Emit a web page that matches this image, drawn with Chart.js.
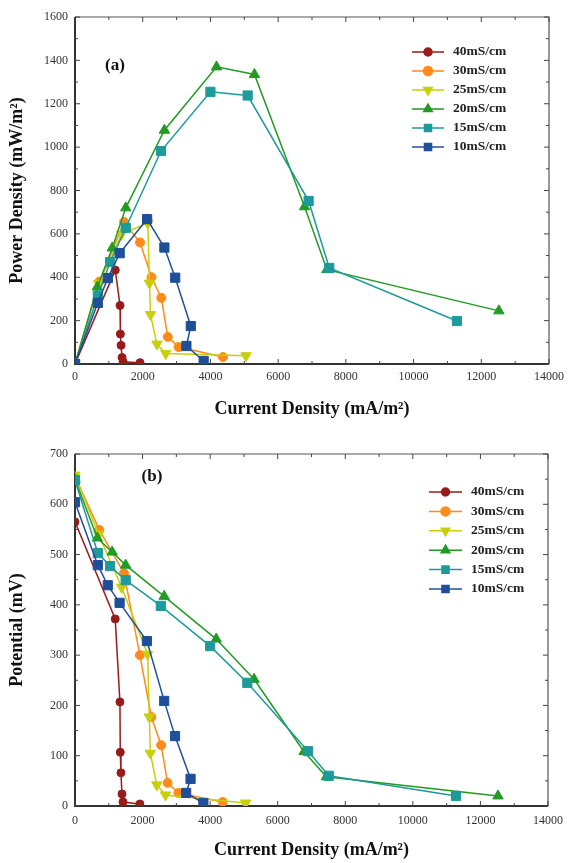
<!DOCTYPE html>
<html>
<head>
<meta charset="utf-8">
<script src="https://cdn.jsdelivr.net/npm/chart.js@4.4.0/dist/chart.umd.min.js"></script>
<style>
    html, body { margin: 0; padding: 0; background: #fff; }
    #boxA { position: absolute; left: 0; top: 0; width: 571px; height: 420px; }
    #boxB { position: absolute; left: 0; top: 420px; width: 571px; height: 443px; }
</style>
</head>
<body>
<div id="boxA"><canvas id="chartA" width="571" height="420"></canvas></div>
<div id="boxB"><canvas id="chartB" width="571" height="443"></canvas></div>
<script>
// series names
var seriesNames = ["40mS/cm", "30mS/cm", "25mS/cm", "20mS/cm", "15mS/cm", "10mS/cm"];

// current density (mA/m2), shared by both panels
var current40 = [0, 1190, 1330, 1340, 1360, 1390, 1420, 1920];
var current30 = [0, 720, 1450, 1920, 2260, 2550, 2740, 3060, 4370];
var current25 = [0, 700, 1380, 2150, 2200, 2230, 2420, 2680, 5050];
var current20 = [0, 660, 1100, 1500, 2640, 4180, 5300, 6780, 7440, 12520];
var current15 = [0, 675, 1040, 1500, 2540, 4000, 5100, 6900, 7510, 11280];
var current10 = [0, 675, 970, 1320, 2130, 2640, 2960, 3420, 3290, 3800];

// (a) power density (mW/m2)
var power40 = [0, 433, 270, 138, 86, 30, 10, 6];
var power30 = [0, 380, 655, 560, 400, 305, 125, 78, 32];
var power25 = [0, 370, 600, 650, 373, 228, 92, 48, 38];
var power20 = [0, 355, 535, 720, 1078, 1370, 1335, 725, 435, 245];
var power15 = [0, 315, 470, 628, 982, 1255, 1238, 752, 443, 198];
var power10 = [0, 282, 396, 511, 668, 537, 398, 175, 83, 14];

// (b) potential (mV)
var potential40 = [565, 372, 207, 107, 66, 24, 8, 4];
var potential30 = [655, 549, 463, 300, 177, 121, 46, 26, 8];
var potential25 = [658, 540, 435, 302, 177, 105, 42, 22, 6];
var potential20 = [650, 533, 505, 479, 417, 332, 252, 108, 58, 20];
var potential15 = [648, 503, 477, 449, 398, 318, 245, 109, 60, 20];
var potential10 = [604, 479, 439, 404, 328, 209, 139, 54, 26, 6];

var xTicks = [0, 2000, 4000, 6000, 8000, 10000, 12000, 14000];

var seriesColors = ["#9b1a1a", "#ff8a1c", "#c9cf0a", "#239a23", "#1f9a9a", "#1f4f98"];
var seriesStyles = [
    {style: "circle", radius: 4, rot: 0},
    {style: "circle", radius: 4.5, rot: 0},
    {style: "triangle", radius: 6, rot: 180},
    {style: "triangle", radius: 6, rot: 0},
    {style: "rect", radius: 6.5, rot: 0},
    {style: "rect", radius: 6.5, rot: 0}
];
var currents = [current40, current30, current25, current20, current15, current10];

Chart.defaults.font.family = "'Liberation Serif', 'Times New Roman', serif";
Chart.defaults.color = "#333";

function toPoints(xs, ys) {
    var pts = [];
    for (var i = 0; i < xs.length; i++) {
        pts.push({x: xs[i], y: ys[i]});
    }
    return pts;
}

function plainNumber(v) {
    return String(v);
}

function makeDatasets(values) {
    var sets = [];
    for (var i = 0; i < seriesNames.length; i++) {
        sets.push({
            label: seriesNames[i],
            data: toPoints(currents[i], values[i]),
            showLine: true,
            borderColor: seriesColors[i],
            backgroundColor: seriesColors[i],
            borderWidth: 1.5,
            pointStyle: seriesStyles[i].style,
            pointRadius: seriesStyles[i].radius,
            pointRotation: seriesStyles[i].rot,
            pointBorderWidth: 1,
            order: seriesNames.length - i
        });
    }
    return sets;
}

// box around the plot with inward major/minor ticks, the panel tag and the legend inside
var framePlugin = {
    id: "frame",
    beforeDatasetsDraw: function (chart, args, opts) {
        var ctx = chart.ctx, a = chart.chartArea;
        var sx = chart.scales.x, sy = chart.scales.y;
        ctx.save();
        ctx.strokeStyle = "#555";
        ctx.lineWidth = 1.2;
        ctx.beginPath();
        ctx.moveTo(a.left, a.top); ctx.lineTo(a.right, a.top); ctx.lineTo(a.right, a.bottom);
        ctx.stroke();
        ctx.strokeStyle = "#333";
        ctx.lineWidth = 2;
        ctx.beginPath();
        ctx.moveTo(a.left, a.top); ctx.lineTo(a.left, a.bottom); ctx.lineTo(a.right, a.bottom);
        ctx.stroke();

        ctx.lineWidth = 1;
        ctx.strokeStyle = "#444";
        ctx.beginPath();
        for (var v = sx.min; v <= sx.max; v += opts.xMinor) {
            var px = sx.getPixelForValue(v);
            var len = (v % (opts.xMinor * 2) === 0) ? 5 : 3;
            ctx.moveTo(px, a.bottom); ctx.lineTo(px, a.bottom - len);
            ctx.moveTo(px, a.top); ctx.lineTo(px, a.top + len);
        }
        for (var w = sy.min; w <= sy.max; w += opts.yMinor) {
            var py = sy.getPixelForValue(w);
            var len2 = (w % (opts.yMinor * 2) === 0) ? 5 : 3;
            ctx.moveTo(a.left, py); ctx.lineTo(a.left + len2, py);
            ctx.moveTo(a.right, py); ctx.lineTo(a.right - len2, py);
        }
        ctx.stroke();

        ctx.fillStyle = "#111";
        ctx.font = "bold 17px 'Liberation Serif', serif";
        ctx.textAlign = "center";
        ctx.textBaseline = "middle";
        ctx.fillText(opts.tag, opts.tagX, opts.tagY);
        ctx.restore();
    },
    afterDraw: function (chart, args, opts) {
        var ctx = chart.ctx;
        ctx.save();
        ctx.font = "bold 13.5px 'Liberation Serif', serif";
        ctx.textAlign = "left";
        ctx.textBaseline = "middle";
        chart.data.datasets.forEach(function (ds, i) {
            var y = opts.legendY + i * opts.legendStep;
            ctx.strokeStyle = ds.borderColor;
            ctx.fillStyle = ds.backgroundColor;
            ctx.lineWidth = 1.5;
            ctx.beginPath();
            ctx.moveTo(opts.legendX1, y); ctx.lineTo(opts.legendX2, y);
            ctx.stroke();
            Chart.helpers.drawPoint(ctx, {
                pointStyle: ds.pointStyle,
                radius: Math.min(ds.pointRadius, 5),
                rotation: ds.pointRotation,
                borderWidth: 1
            }, (opts.legendX1 + opts.legendX2) / 2, y);
            ctx.fillStyle = "#222";
            ctx.fillText(ds.label, opts.legendX2 + 9, y);
        });
        ctx.restore();
    }
};

function makeChart(id, values, cfg) {
    return new Chart(document.getElementById(id), {
        type: "scatter",
        data: {datasets: makeDatasets(values)},
        plugins: [framePlugin],
        options: {
            responsive: false,
            animation: false,
            layout: {padding: cfg.padding},
            plugins: {
                legend: {display: false},
                tooltip: {enabled: false},
                frame: cfg.frame
            },
            scales: {
                x: {
                    type: "linear",
                    min: 0,
                    max: 14000,
                    afterBuildTicks: function (s) {
                        s.ticks = xTicks.map(function (v) { return {value: v}; });
                    },
                    afterFit: function (s) { s.height = cfg.xHeight; },
                    ticks: {padding: cfg.xTickPad, color: "#333", font: {size: 12}, callback: plainNumber},
                    grid: {display: false, drawTicks: false},
                    border: {display: false},
                    title: {
                        display: true,
                        text: "Current Density (mA/m\u00b2)",
                        color: "#111",
                        font: {size: 18, weight: "bold"},
                        padding: {top: 0, bottom: 0}
                    }
                },
                y: {
                    type: "linear",
                    min: 0,
                    max: cfg.yMax,
                    afterFit: function (s) { s.width = 75; },
                    ticks: {stepSize: cfg.yStep, padding: 7, color: "#333", font: {size: 12}, callback: plainNumber},
                    grid: {display: false, drawTicks: false},
                    border: {display: false},
                    title: {
                        display: true,
                        text: cfg.yTitle,
                        color: "#111",
                        font: {size: 18, weight: "bold"},
                        padding: {top: 7, bottom: 0}
                    }
                }
            }
        }
    });
}

makeChart("chartA", [power40, power30, power25, power20, power15, power10], {
    padding: {top: 17, right: 22, bottom: 0, left: 0},
    xHeight: 56,
    xTickPad: 6,
    yMax: 1600,
    yStep: 200,
    yTitle: "Power Density (mW/m\u00b2)",
    frame: {xMinor: 1000, yMinor: 100, tag: "(a)", tagX: 115, tagY: 66,
        legendX1: 412, legendX2: 444, legendY: 52, legendStep: 19}
});

makeChart("chartB", [potential40, potential30, potential25, potential20, potential15, potential10], {
    padding: {top: 34, right: 16, bottom: 2, left: 0},
    xHeight: 55,
    xTickPad: 8,
    yMax: 700,
    yStep: 100,
    yTitle: "Potential (mV)",
    frame: {xMinor: 1000, yMinor: 50, tag: "(b)", tagX: 152, tagY: 57,
        legendX1: 429, legendX2: 462, legendY: 72, legendStep: 19.4}
});
</script>
</body>
</html>
